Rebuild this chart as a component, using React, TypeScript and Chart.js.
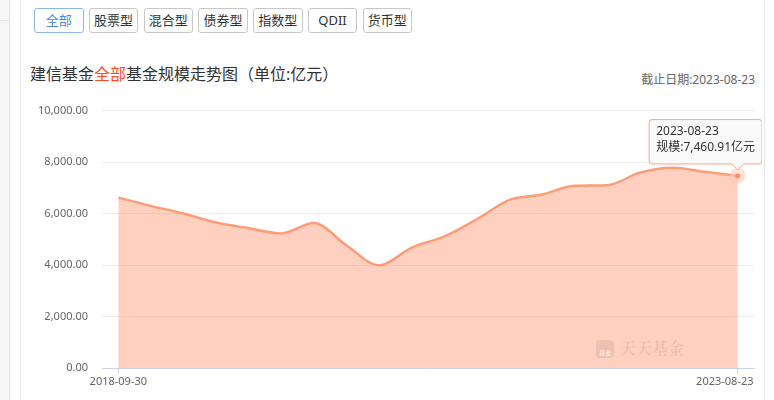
import React, { useEffect, useRef } from 'react';
import { Chart, registerables } from 'chart.js';

Chart.register(...registerables);

const categories = ['全部', '股票型', '混合型', '债券型', '指数型', 'QDII', '货币型'];
const company = '建信基金';
const activeCategory = '全部';
const cutoffDate = '2023-08-23';
const dates = [
  '2018-09-30', '2018-12-31', '2019-03-31', '2019-06-30', '2019-09-30',
  '2019-12-31', '2020-03-31', '2020-06-30', '2020-09-30', '2020-12-31',
  '2021-03-31', '2021-06-30', '2021-09-30', '2021-12-31', '2022-03-31',
  '2022-06-30', '2022-09-30', '2022-12-31', '2023-03-31', '2023-08-23',
];
const fundScale = [
  6620, 6300, 6000, 5650, 5430,
  5230, 5630, 4760, 3990, 4680,
  5110, 5780, 6530, 6740, 7080,
  7100, 7590, 7780, 7620, 7460.91,
];
const yTicks = [0, 2000, 4000, 6000, 8000, 10000];

const FONT = "'Noto Sans', 'Noto Sans CJK SC', sans-serif";
const fmt = (v: number) =>
  v.toLocaleString('en-US', { minimumFractionDigits: 2, maximumFractionDigits: 2 });

const haloPlugin = {
  id: 'halo',
  afterDatasetsDraw(chart: any) {
    const meta = chart.getDatasetMeta(0);
    const el = meta.data[meta.data.length - 1];
    if (!el) return;
    const ctx = chart.ctx;
    ctx.save();
    ctx.beginPath();
    ctx.arc(el.x, el.y, 8, 0, Math.PI * 2);
    ctx.fillStyle = 'rgba(255,200,182,0.55)';
    ctx.fill();
    ctx.beginPath();
    ctx.arc(el.x, el.y, 2.5, 0, Math.PI * 2);
    ctx.fillStyle = '#ff8f6b';
    ctx.fill();
    ctx.restore();
  },
};

export default function App() {
  const ref = useRef<HTMLCanvasElement | null>(null);

  useEffect(() => {
    if (!ref.current) return;
    const lastIdx = dates.length - 1;
    const chart = new Chart(ref.current, {
      type: 'line',
      data: {
        datasets: [
          {
            data: fundScale.map((v, i) => ({ x: i, y: v })),
            borderColor: '#ff9c78',
            borderWidth: 2.5,
            backgroundColor: 'rgba(255,130,90,0.38)',
            fill: 'origin',
            cubicInterpolationMode: 'monotone',
            pointRadius: 0,
            pointHoverRadius: 0,
            pointHitRadius: 0,
          } as any,
        ],
      },
      options: {
        responsive: false,
        animation: false,
        events: [],
        layout: { padding: { top: 18, right: 8, left: 0, bottom: 0 } },
        font: { family: FONT } as any,
        plugins: {
          legend: { display: false },
          tooltip: {
            enabled: true,
            xAlign: 'center',
            yAlign: 'bottom',
            backgroundColor: 'rgba(250,250,250,0.96)',
            borderColor: '#f6a688',
            borderWidth: 1,
            cornerRadius: 3,
            caretSize: 6,
            caretPadding: 6,
            displayColors: false,
            titleColor: '#333',
            bodyColor: '#333',
            titleFont: { family: FONT, size: 12, weight: 'normal', lineHeight: 1.35 } as any,
            bodyFont: { family: FONT, size: 12, weight: 'normal', lineHeight: 1.35 } as any,
            titleMarginBottom: 0,
            padding: { top: 4, bottom: 8, left: 7, right: 7 } as any,
            callbacks: {
              title: (items: any[]) => dates[items[0].dataIndex],
              label: (item: any) => '规模:' + fmt(item.parsed.y) + '亿元',
            },
          },
        },
        scales: {
          x: {
            type: 'linear',
            min: -0.5,
            max: dates.length - 0.5,
            afterBuildTicks: (s: any) => {
              s.ticks = [{ value: 0 }, { value: lastIdx }];
            },
            afterFit: (s: any) => {
              s.height = 32;
              s.paddingLeft = 0;
              s.paddingRight = 0;
            },
            ticks: {
              autoSkip: false,
              maxRotation: 0,
              padding: 2,
              color: '#666',
              font: { family: FONT, size: 11 },
              callback: (v: any) =>
                v === 0 ? dates[0] : v === lastIdx ? dates[lastIdx] + '\u00a0'.repeat(9) : '',
            },
            grid: {
              drawOnChartArea: false,
              drawTicks: true,
              tickLength: 5,
              color: '#c9d3e6',
            },
            border: { display: true, color: '#c9d3e6' },
          },
          y: {
            min: 0,
            max: yTicks[yTicks.length - 1],
            afterBuildTicks: (s: any) => {
              s.ticks = yTicks.map((v) => ({ value: v }));
            },
            afterFit: (s: any) => {
              s.width = 82;
            },
            ticks: {
              padding: 14,
              color: '#666',
              font: { family: FONT, size: 11 },
              callback: (v: any) => fmt(Number(v)),
            },
            grid: { color: '#eeeeee', drawTicks: false },
            border: { display: false },
          },
        },
      } as any,
      plugins: [haloPlugin],
    });

    const el: any = chart.getDatasetMeta(0).data[lastIdx];
    chart.tooltip?.setActiveElements([{ datasetIndex: 0, index: lastIdx }], { x: el.x, y: el.y });
    chart.update();

    return () => chart.destroy();
  }, []);

  const activeIdx = categories.indexOf(activeCategory);

  return (
    <div
      style={{
        position: 'absolute',
        left: 0,
        top: 0,
        width: 774,
        height: 400,
        background: '#fff',
        overflow: 'hidden',
        fontFamily: FONT,
      }}
    >
      {/* left side strip */}
      <div style={{ position: 'absolute', left: 0, top: 0, width: 9, height: 400, background: '#f6f6f6', borderRight: '1px solid #e4e4e4' }} />
      <div style={{ position: 'absolute', left: 0, top: 20, width: 9, height: 1, background: '#e2e2e2' }} />
      <div style={{ position: 'absolute', left: 20, top: 0, width: 1, height: 400, background: '#e6e6e6' }} />
      <div style={{ position: 'absolute', left: 764, top: 0, width: 1, height: 400, background: '#e6e6e6' }} />

      {/* category buttons */}
      {categories.map((c, i) => (
        <div
          key={c}
          style={{
            position: 'absolute',
            left: 34 + i * 54.75,
            top: 8,
            width: 49.5,
            height: 25,
            boxSizing: 'border-box',
            border: '1px solid ' + (i === activeIdx ? '#90b6ee' : '#c8c8c8'),
            borderRadius: 3,
            color: i === activeIdx ? '#4a8ae6' : '#333',
            fontSize: 13,
            lineHeight: '23px',
            textAlign: 'center',
            background: '#fff',
          }}
        >
          {c}
        </div>
      ))}

      {/* title */}
      <div style={{ position: 'absolute', left: 30, top: 65, fontSize: 16, lineHeight: '18px', color: '#333', whiteSpace: 'nowrap' }}>
        {company}
        <span style={{ color: '#ff4a1e' }}>{activeCategory}</span>
        基金规模走势图（单位:亿元）
      </div>
      <div style={{ position: 'absolute', right: 19, top: 72, fontSize: 12, lineHeight: '16px', color: '#666', whiteSpace: 'nowrap' }}>
        截止日期:{cutoffDate}
      </div>

      {/* watermark */}
      <div style={{ position: 'absolute', left: 596, top: 340, width: 18, height: 18, borderRadius: 4, background: 'rgba(0,0,0,0.07)', color: 'rgba(255,255,255,0.8)', fontSize: 6, lineHeight: '26px', textAlign: 'center', zIndex: 2 }}>
        基金
      </div>
      <div style={{ position: 'absolute', left: 620, top: 336, fontSize: 16, fontWeight: 'bold', fontFamily: "'Noto Serif CJK SC', 'Noto Sans CJK SC', serif", color: 'rgba(0,0,0,0.08)', whiteSpace: 'nowrap', zIndex: 2 }}>
        天天基金
      </div>

      <canvas
        ref={ref}
        width={742}
        height={310}
        style={{ position: 'absolute', left: 20, top: 90, width: 742, height: 310 }}
      />
    </div>
  );
}
